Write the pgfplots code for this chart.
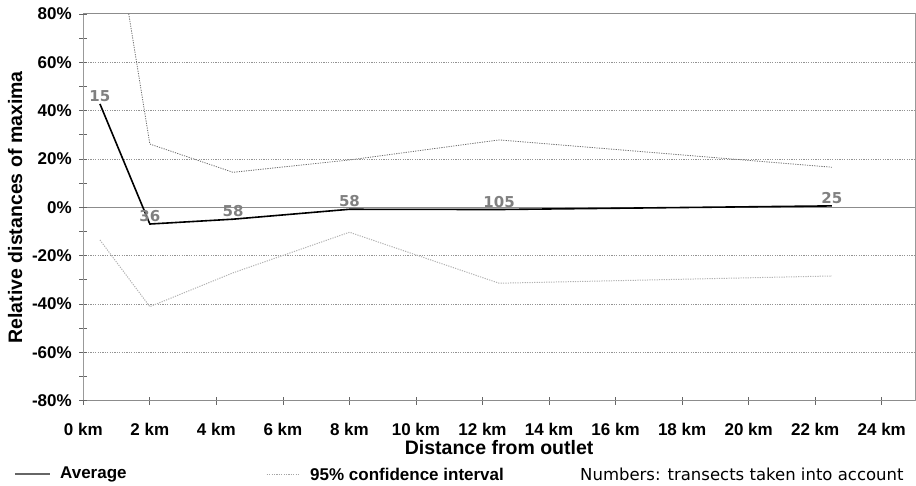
\documentclass[border=0pt]{standalone}
\usepackage{fontspec}
\setmainfont{Liberation Sans}
\newfontfamily\dejavu{DejaVu Sans}
\usepackage{pgfplots}
\pgfplotsset{compat=1.18}
\begin{document}
\begin{tikzpicture}
\begin{axis}[
  name=ax,
  scale only axis, width=831.7pt, height=386.7pt,
  xmin=0, xmax=25, ymin=-80, ymax=80,
  xtick={0,2,...,24},
  xticklabels={0 km,2 km,4 km,6 km,8 km,10 km,12 km,14 km,16 km,18 km,20 km,22 km,24 km},
  ytick={-60,-40,-20,20,40,60},
  yticklabels={-60\%,-40\%,-20\%,20\%,40\%,60\%},
  extra y ticks={-80,0,80},
  extra y tick labels={-80\%,0\%,80\%},
  extra y tick style={grid style={solid, gray!90, line width=1pt}},
  minor ytick={-70,-50,-30,-10,10,30,50,70},
  xtick pos=left, ytick pos=left,
  tick align=center,
  major tick length=8pt, minor tick length=8pt,
  tick style={gray!80!black, line width=0.8pt},
  axis line style={gray!80, line width=1pt},
  ymajorgrids,
  grid style={gray!85, line width=0.8pt, dash pattern=on 1.2pt off 1.2pt},
  ticklabel style={font=\bfseries\fontsize{17}{17}\selectfont},
  xticklabel style={yshift=-15pt},
  yticklabel style={xshift=-4pt},
  xlabel={Distance from outlet},
  ylabel={Relative distances of maxima},
  label style={font=\bfseries\fontsize{19.5}{20}\selectfont},
  xlabel style={yshift=2pt},
  ylabel style={yshift=-5pt},
]
\addplot[black, line width=1.6pt, nodes near coords, point meta=explicit symbolic,
  every node near coord/.style={font=\dejavu\bfseries\fontsize{15}{15}\selectfont, text=gray, anchor=south, inner sep=1.5pt}]
  table[meta=n] {
x y n
0.5 42.8 15
2 -6.9 36
4.5 -4.9 58
8 -0.8 58
12.5 -0.9 105
22.5 0.6 25
};
\addplot[gray!85!black, dash pattern=on 1.2pt off 1.2pt, line width=0.8pt] table {
x y
0.5 153.6
2 26.2
4.5 14.5
8 19.6
12.5 27.9
22.5 16.6
};
\addplot[gray!60, dash pattern=on 1.2pt off 1.2pt, line width=1pt] table {
x y
0.5 -13.5
2 -41.1
4.5 -27.1
8 -10.3
12.5 -31.4
22.5 -28.4
};
\end{axis}
\path ([xshift=-83.3pt,yshift=-85.3pt]ax.south west) rectangle ([xshift=1pt,yshift=14pt]ax.north east);
\draw[gray!80!black, line width=1.2pt] ([xshift=-68.3pt,yshift=-73.3pt]ax.south west) -- ++(35pt,0);
\node[anchor=west, inner sep=0pt, font=\bfseries\fontsize{17}{17}\selectfont] at ([xshift=-23.3pt,yshift=-73.3pt]ax.south west) {Average};
\draw[gray!70, dash pattern=on 1.2pt off 1.2pt, line width=0.8pt] ([xshift=183.4pt,yshift=-73.3pt]ax.south west) -- ++(33pt,0);
\node[anchor=west, inner sep=0pt, font=\bfseries\fontsize{17}{17}\selectfont] at ([xshift=226.7pt,yshift=-73.3pt]ax.south west) {95\% confidence interval};
\node[anchor=west, inner sep=0pt, font=\dejavu\fontsize{16.5}{17}\selectfont] at ([xshift=496.7pt,yshift=-73.3pt]ax.south west) {Numbers: transects taken into account};
\end{tikzpicture}
\end{document}
